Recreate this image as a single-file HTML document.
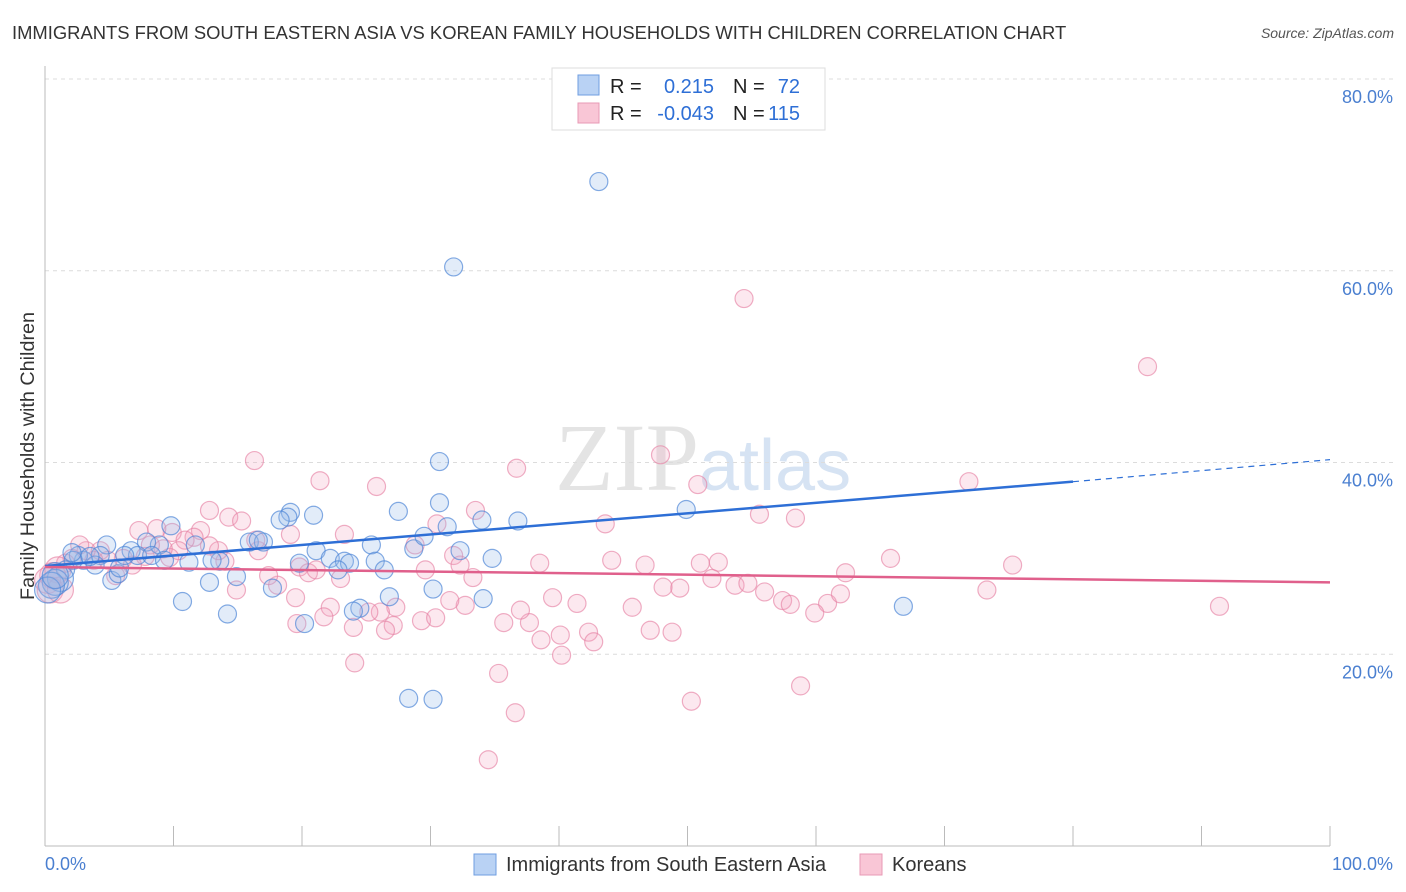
<!DOCTYPE html>
<html><head><meta charset="utf-8">
<style>
body{margin:0;background:#fff;font-family:"Liberation Sans",sans-serif;}
#wrap{position:relative;width:1406px;height:892px;overflow:hidden;}
.title{position:absolute;left:12px;top:22px;font-size:18.4px;color:#333;}
.source{position:absolute;right:12px;top:25px;font-size:14px;color:#555;font-style:italic;}
</style></head>
<body>
<div id="wrap">
<div class="title">IMMIGRANTS FROM SOUTH EASTERN ASIA VS KOREAN FAMILY HOUSEHOLDS WITH CHILDREN CORRELATION CHART</div>
<div class="source">Source: ZipAtlas.com</div>
<svg id="svg" width="1406" height="892" style="position:absolute;left:0;top:0"></svg>
</div>
<script>
const blueX=[43.1,31.8,30.7,19.1,18.9,20.9,18.3,27.5,30.7,31.3,34.0,36.8,49.9,9.8,66.8,30.2,26.8,24.5,24.0,28.3,30.2,10.7,14.2,12.8,14.9,17.7,20.2,15.9,17.0,16.6,21.1,22.2,23.3,23.7,25.4,25.7,26.4,28.7,29.5,32.3,34.8,34.1,22.8,19.8,13.6,13.0,11.2,11.7,8.9,7.9,6.7,4.8,4.3,5.2,5.7,3.0,2.6,2.2,1.6,1.2,0.8,0.5,0.2,7.2,8.3,5.8,3.9,6.2,9.3,2.1,3.5,0.8];
const blueY=[69.3,60.4,40.1,34.8,34.3,34.5,34.0,34.9,35.8,33.3,34.0,33.9,35.1,33.4,25.0,26.8,26.0,24.8,24.5,15.4,15.3,25.5,24.2,27.5,28.1,26.9,23.2,31.7,31.7,31.9,30.8,30.0,29.7,29.5,31.4,29.7,28.8,31.0,32.3,30.8,30.0,25.8,28.8,29.5,29.7,29.8,29.6,31.4,31.4,31.7,30.8,31.4,30.3,27.7,28.4,29.8,30.3,29.8,28.8,27.9,27.5,27.2,26.7,30.3,30.3,29.0,29.3,30.3,29.8,30.6,30.2,28.2];
const pinkX=[54.4,85.8,16.3,21.4,25.8,36.7,47.9,50.8,71.9,91.4,75.3,73.3,65.8,62.3,55.6,58.4,50.3,58.8,43.6,30.5,33.5,12.8,14.3,15.3,12.1,11.6,9.9,8.7,7.3,23.3,19.1,28.8,31.8,32.3,38.5,46.7,51.0,52.4,51.9,53.7,54.7,56.0,57.4,58.0,60.9,61.9,59.9,48.1,49.4,45.7,47.1,48.8,42.3,40.1,40.2,38.6,42.7,35.7,37.7,39.5,41.4,32.7,31.5,29.3,30.4,27.3,26.1,27.1,26.5,25.2,24.1,24.0,22.2,21.7,19.6,19.5,19.8,20.5,21.1,18.1,17.4,16.6,14.9,14.0,13.5,12.8,10.9,10.4,9.7,9.2,8.2,7.8,6.8,6.1,5.5,4.9,4.3,3.8,3.2,2.7,2.1,1.6,1.0,0.6,0.2,0.4,1.2,29.6,23.0,35.3,36.6,34.5,33.3,37.0,44.1,16.4];
const pinkY=[57.1,50.0,40.2,38.1,37.5,39.4,40.8,37.7,38.0,25.0,29.3,26.7,30.0,28.5,34.6,34.2,15.1,16.7,33.6,33.6,35.0,35.0,34.3,33.9,32.9,32.2,32.7,33.1,32.9,32.5,32.5,31.4,30.3,29.3,29.5,29.3,29.5,29.6,27.9,27.2,27.4,26.5,25.6,25.2,25.3,26.3,24.3,27.0,26.9,24.9,22.5,22.3,22.3,22.0,19.9,21.5,21.3,23.3,23.3,25.9,25.3,25.1,25.6,23.5,23.8,24.9,24.4,23.0,22.5,24.4,19.1,22.8,24.9,23.9,23.2,25.9,29.1,28.5,28.8,27.2,28.2,30.8,26.7,29.7,30.8,31.3,31.9,30.8,30.1,31.0,31.4,30.2,29.3,30.0,28.2,29.8,30.8,29.8,30.8,31.4,30.0,29.5,28.8,28.2,27.7,26.7,26.7,28.8,27.9,18.0,13.9,9.0,28.0,24.6,29.8,31.9];
const blueTrend=[29.2,38.0,40.3]; // y at x=0, x=80, x=100
const pinkTrend=[29.1,27.5];      // y at x=0, x=100
const yTicks=[20,40,60,80];
const yTickLabels=["20.0%","40.0%","60.0%","80.0%"];
const xTickVals=[0,10,20,30,40,50,60,70,80,90,100];

const L=45,R=1330,T=79,B=846;
const sx=v=>L+(R-L)*v/100;
const sy=v=>B-(B-T)*v/80;
const svg=document.getElementById('svg');
const NS='http://www.w3.org/2000/svg';
function mk(tag,attrs,parent){const e=document.createElementNS(NS,tag);for(const k in attrs)e.setAttribute(k,attrs[k]);(parent||svg).appendChild(e);return e;}

let wm=mk('text',{x:555,y:490,'font-size':96,'font-family':'Liberation Serif, serif',fill:'#e4e4e4'});


wm.innerHTML='ZIP<tspan fill="#d6e3f3" font-family="Liberation Sans, sans-serif" font-size="72">atlas</tspan>';

yTicks.forEach((v,i)=>{
  let g=mk('line',{x1:L,x2:1394,y1:sy(v),y2:sy(v),stroke:'#dcdcdc','stroke-dasharray':'4,4'});
  
  
  let t=mk('text',{x:1393,y:sy(v)+24,'text-anchor':'end','font-size':18,fill:'#4a7fd0'});
  
  
  t.textContent=yTickLabels[i];
});
let ya=mk('line',{x1:L,x2:L,y1:66,y2:B,stroke:'#bbb'});


let xa=mk('line',{x1:L,x2:R,y1:B,y2:B,stroke:'#bbb'});


xTickVals.forEach(v=>{
  let t=mk('line',{x1:sx(v),x2:sx(v),y1:826,y2:B,stroke:'#bbb'});
  
  
});
let x0=mk('text',{x:45,y:870,'font-size':18,fill:'#4a7fd0'});x0.textContent='0.0%';


let x1=mk('text',{x:1393,y:870,'font-size':18,fill:'#4a7fd0','text-anchor':'end'});x1.textContent='100.0%';


let yt=mk('text',{x:34,y:456,'font-size':19.8,fill:'#333','text-anchor':'middle',transform:'rotate(-90 34 456)'});
yt.textContent='Family Households with Children';



function pts(xs,ys,fill,stroke,name){
  xs.forEach((x,i)=>{
    const r=x<1.3?13:9;
    let c=mk('circle',{cx:sx(x),cy:sy(ys[i]),r:r,fill:fill,stroke:stroke,'stroke-width':1.2});
    
    
  });
}
pts(pinkX,pinkY,'rgba(242,165,192,0.25)','rgba(230,130,165,0.65)','korean-point');
pts(blueX,blueY,'rgba(150,185,235,0.28)','rgba(80,135,215,0.7)','sea-immigrant-point');

let bt=mk('line',{x1:sx(0),y1:sy(blueTrend[0]),x2:sx(80),y2:sy(blueTrend[1]),stroke:'#2e6fd6','stroke-width':2.5});


let bd=mk('line',{x1:sx(80),y1:sy(blueTrend[1]),x2:sx(100),y2:sy(blueTrend[2]),stroke:'#2e6fd6','stroke-width':1.2,'stroke-dasharray':'6,5'});


let pt=mk('line',{x1:sx(0),y1:sy(pinkTrend[0]),x2:sx(100),y2:sy(pinkTrend[1]),stroke:'#e0608c','stroke-width':2.5});



let lg=mk('g',{});


mk('rect',{x:552,y:68,width:273,height:62,fill:'#fff',stroke:'#ddd'},lg);
mk('rect',{x:578,y:75,width:21,height:20,fill:'#b9d2f4',stroke:'#6f9ee0'},lg);
mk('rect',{x:578,y:103,width:21,height:20,fill:'#f9c6d6',stroke:'#e89ab5'},lg);
function tx(x,y,s,c,a){let t=mk('text',{x:x,y:y,'font-size':20,fill:c,'text-anchor':a||'start'},lg);t.textContent=s;return t;}
tx(610,93,'R =','#222');tx(714,93,'0.215','#2e6fd6','end');tx(733,93,'N =','#222');tx(800,93,'72','#2e6fd6','end');
tx(610,120,'R =','#222');tx(714,120,'-0.043','#2e6fd6','end');tx(733,120,'N =','#222');tx(800,120,'115','#2e6fd6','end');

let bl=mk('g',{});


mk('rect',{x:474,y:854,width:22,height:21,fill:'#b9d2f4',stroke:'#6f9ee0'},bl);
let l1=mk('text',{x:506,y:871,'font-size':20,fill:'#333'},bl);l1.textContent='Immigrants from South Eastern Asia';
mk('rect',{x:860,y:854,width:22,height:21,fill:'#f9c6d6',stroke:'#e89ab5'},bl);
let l2=mk('text',{x:892,y:871,'font-size':20,fill:'#333'},bl);l2.textContent='Koreans';
</script>
</body></html>
